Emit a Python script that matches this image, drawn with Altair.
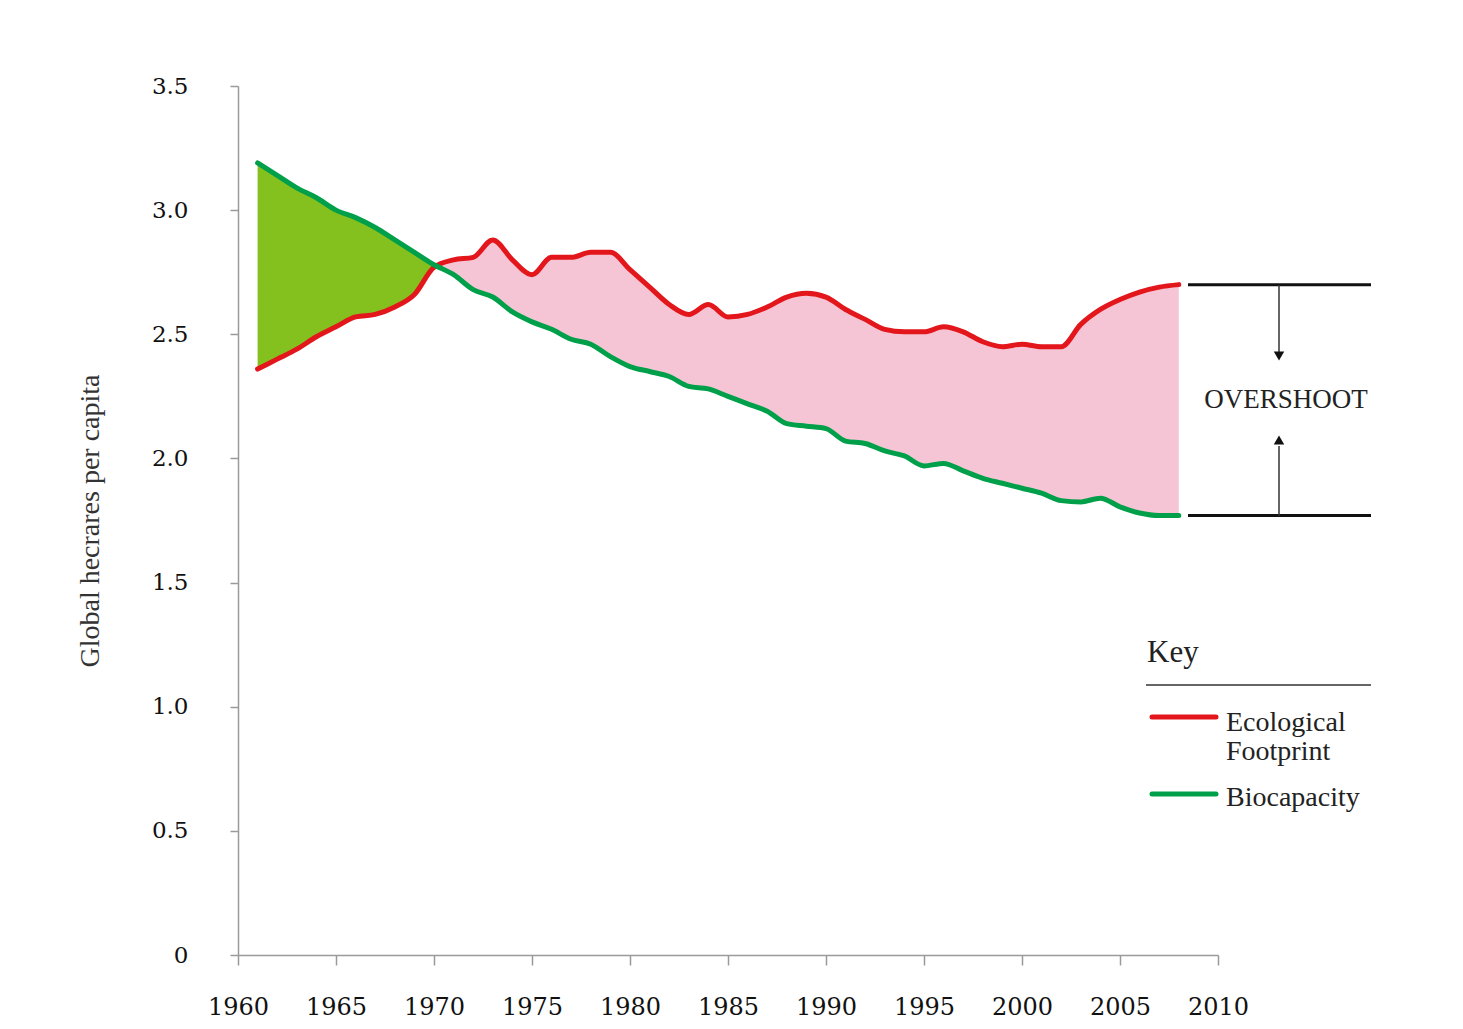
import altair as alt
import pandas as pd

# ---- data ----
years = list(range(1961, 2009))
footprint = [2.36, 2.40, 2.44, 2.49, 2.53, 2.57, 2.58, 2.61, 2.66, 2.77,
             2.80, 2.81, 2.88, 2.80, 2.74, 2.81, 2.81, 2.83, 2.83, 2.76,
             2.69, 2.62, 2.58, 2.62, 2.57, 2.58, 2.61, 2.65, 2.665, 2.65,
             2.60, 2.56, 2.52, 2.51, 2.51, 2.53, 2.51, 2.47, 2.45, 2.46,
             2.45, 2.45, 2.54, 2.60, 2.64, 2.67, 2.69, 2.70]
biocapacity = [3.19, 3.14, 3.09, 3.05, 3.00, 2.97, 2.93, 2.88, 2.83, 2.78,
               2.74, 2.68, 2.65, 2.59, 2.55, 2.52, 2.48, 2.46, 2.41, 2.37,
               2.35, 2.33, 2.29, 2.28, 2.25, 2.22, 2.19, 2.14, 2.13, 2.12,
               2.07, 2.06, 2.03, 2.01, 1.97, 1.98, 1.95, 1.92, 1.90, 1.88,
               1.86, 1.83, 1.825, 1.84, 1.805, 1.78, 1.77, 1.77]
x_ticks = list(range(1960, 2011, 5))
y_ticks = [0, 0.5, 1.0, 1.5, 2.0, 2.5, 3.0, 3.5]
crossover_year = 1970
y_title = "Global hecrares per capita"
legend_title = "Key"
legend_labels = ["Ecological", "Footprint", "Biocapacity"]
annotation = "OVERSHOOT"

RED = "#e3161c"
GREEN = "#00a04a"
GREEN_FILL = "#84c11f"
PINK = "#f6c5d5"
SERIF = "Liberation Serif"
NUM = "DejaVu Serif"

df = pd.DataFrame({"year": years, "foot": footprint, "bio": biocapacity})
W, H = 980, 869

x_enc = alt.X("year:Q",
              scale=alt.Scale(domain=[1960, 2010], nice=False, zero=False),
              axis=alt.Axis(values=x_ticks, format="d", title=None, grid=False,
                            labelFlush=False, labelOverlap=False,
                            tickSize=10, labelPadding=30, labelFont=NUM,
                            labelFontSize=24, labelColor="#111",
                            domainColor="#9a9a9a", tickColor="#9a9a9a",
                            domainWidth=1.5, tickWidth=1.5))
y_scale = alt.Scale(domain=[0, 3.5], nice=False)
y_axis = alt.Axis(values=y_ticks,
                  labelExpr="datum.value == 0 ? '0' : format(datum.value, '.1f')",
                  grid=False, tickSize=8, labelPadding=42, labelFont=NUM,
                  labelFontSize=23, labelColor="#111", labelFlush=False,
                  domainColor="#9a9a9a", tickColor="#9a9a9a",
                  domainWidth=1.5, tickWidth=1.5,
                  title=y_title, titleFont=SERIF, titleFontSize=28,
                  titleFontWeight="normal", titleColor="#333",
                  titleX=-148, titleY=H / 2, titleAlign="center",
                  titleBaseline="middle", titleAngle=-90)

base = alt.Chart(df)

green_area = base.transform_filter(alt.datum.year <= crossover_year).mark_area(
    color=GREEN_FILL, interpolate="monotone", opacity=1).encode(
    x=x_enc, y=alt.Y("bio:Q", scale=y_scale, axis=y_axis), y2="foot:Q")

pink_area = base.transform_filter(alt.datum.year >= crossover_year).mark_area(
    color=PINK, interpolate="monotone", opacity=1).encode(
    x=x_enc, y=alt.Y("foot:Q", scale=y_scale, axis=y_axis), y2="bio:Q")

red_line = base.mark_line(color=RED, strokeWidth=5, interpolate="monotone",
                          strokeCap="round").encode(
    x=x_enc, y=alt.Y("foot:Q", scale=y_scale, axis=y_axis))

green_line = base.mark_line(color=GREEN, strokeWidth=5, interpolate="monotone",
                            strokeCap="round").encode(
    x=x_enc, y=alt.Y("bio:Q", scale=y_scale, axis=y_axis))

# overshoot bracket lines at the final values
ends = pd.DataFrame({"val": [footprint[-1], biocapacity[-1]]})
bracket = alt.Chart(ends).mark_rule(color="#111", strokeWidth=3).encode(
    x=alt.value(950), x2=alt.value(1133),
    y=alt.Y("val:Q", scale=y_scale, axis=y_axis))

one = pd.DataFrame({"a": [0]})
shaft_top = alt.Chart(one).mark_rule(color="#333", strokeWidth=1.5).encode(
    x=alt.value(1041), y=alt.value(199), y2=alt.value(266))
shaft_bot = alt.Chart(one).mark_rule(color="#333", strokeWidth=1.5).encode(
    x=alt.value(1041), y=alt.value(360), y2=alt.value(430))
head_top = alt.Chart(one).mark_point(shape="triangle-down", filled=True,
                                     color="#111", size=110, opacity=1).encode(
    x=alt.value(1041), y=alt.value(270))
head_bot = alt.Chart(one).mark_point(shape="triangle-up", filled=True,
                                     color="#111", size=110, opacity=1).encode(
    x=alt.value(1041), y=alt.value(354))
over_text = alt.Chart(one).mark_text(text=annotation, font=SERIF, fontSize=27,
                                     color="#222", align="center",
                                     baseline="alphabetic").encode(
    x=alt.value(1048), y=alt.value(322))

# manual key
key_text = alt.Chart(one).mark_text(text=legend_title, font=SERIF, fontSize=31,
                                    color="#222", align="left",
                                    baseline="alphabetic").encode(
    x=alt.value(909), y=alt.value(576))
key_rule = alt.Chart(one).mark_rule(color="#333", strokeWidth=1.5).encode(
    x=alt.value(908), x2=alt.value(1133), y=alt.value(599))
key_red = alt.Chart(one).mark_rule(color=RED, strokeWidth=5, strokeCap="round").encode(
    x=alt.value(914), x2=alt.value(978), y=alt.value(631))
key_green = alt.Chart(one).mark_rule(color=GREEN, strokeWidth=5, strokeCap="round").encode(
    x=alt.value(914), x2=alt.value(978), y=alt.value(708))
lbl_style = dict(font=SERIF, fontSize=28, color="#222", align="left",
                 baseline="alphabetic")
lbl1 = alt.Chart(one).mark_text(text=legend_labels[0], **lbl_style).encode(
    x=alt.value(988), y=alt.value(645))
lbl2 = alt.Chart(one).mark_text(text=legend_labels[1], **lbl_style).encode(
    x=alt.value(988), y=alt.value(674))
lbl3 = alt.Chart(one).mark_text(text=legend_labels[2], **lbl_style).encode(
    x=alt.value(988), y=alt.value(720))

chart = alt.layer(
    green_area, pink_area, red_line, green_line, bracket,
    shaft_top, shaft_bot, head_top, head_bot, over_text,
    key_text, key_rule, key_red, key_green, lbl1, lbl2, lbl3
).properties(
    width=W, height=H,
    autosize=alt.AutoSizeParams(type="none"),
    padding={"left": 230, "top": 78, "right": 225, "bottom": 66},
    background="white"
).configure_view(stroke=None)

chart.save("out.html", embed_options={"renderer": "svg", "actions": False})
